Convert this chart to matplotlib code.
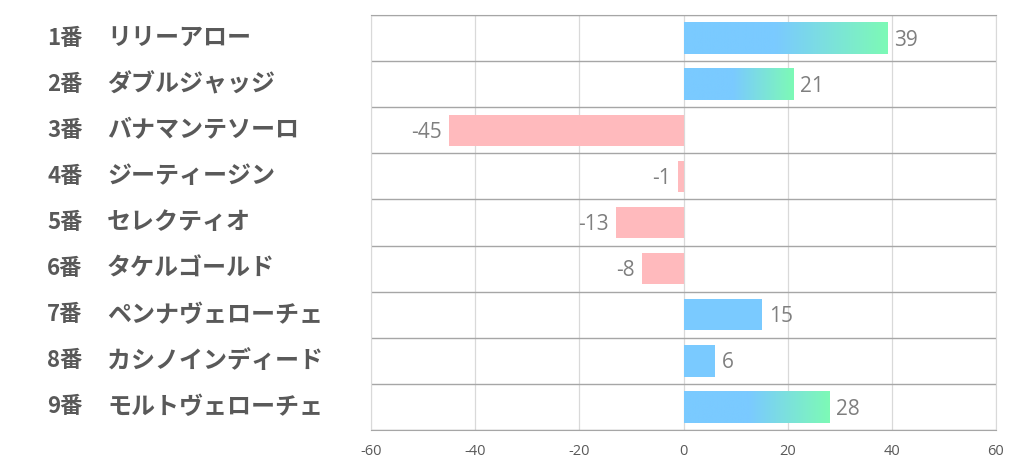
"""
    Horizontal bar chart of horse rating differences
"""
import matplotlib.pyplot as plt
import numpy as np
from matplotlib.colors import LinearSegmentedColormap
from matplotlib.transforms import blended_transform_factory

numbers = ["1番", "2番", "3番", "4番", "5番", "6番", "7番", "8番", "9番"]
names = [
    "リリーアロー",
    "ダブルジャッジ",
    "バナマンテソーロ",
    "ジーティージン",
    "セレクティオ",
    "タケルゴールド",
    "ペンナヴェローチェ",
    "カシノインディード",
    "モルトヴェローチェ",
]
values = [39, 21, -45, -1, -13, -8, 15, 6, 28]
x_ticks = [-60, -40, -20, 0, 20, 40, 60]

BLUE = "#7ACAFF"
GREEN = "#7DFAB6"
PINK = "#FFBABD"

plt.rcParams['font.family'] = ['Noto Sans CJK JP', 'DejaVu Sans']

fig = plt.figure(figsize=(10.22, 4.70), dpi=100)
ax = fig.add_axes([371 / 1022, 40 / 470, 625 / 1022, 415 / 470])

n = len(values)
ypos = np.arange(n)
bar_h = 0.68
colors = [BLUE if v >= 0 else PINK for v in values]
ax.barh(ypos, values, height=bar_h, color=colors, zorder=2)

# gradient overlay for the longer positive bars
cmap = LinearSegmentedColormap.from_list("bg", [(0, BLUE), (0.45, BLUE), (1, GREEN)])
grad = np.linspace(0, 1, 256).reshape(1, -1)
for y, v in zip(ypos, values):
    if v >= 20:
        ax.imshow(grad, cmap=cmap, aspect='auto', zorder=3,
                  extent=[0, v, y + bar_h / 2, y - bar_h / 2])

ax.set_xlim(-60, 60)
ax.set_ylim(n - 0.5, -0.5)
ax.set_xticks(x_ticks)
ax.set_xticklabels([str(t) for t in x_ticks], fontsize=10.5, color="#595959",
                   family=['Open Sans', 'DejaVu Sans'])
ax.set_yticks([])
ax.tick_params(axis='x', length=0, pad=10)

# grid lines
for t in x_ticks:
    ax.axvline(t, color="#D9D9D9", lw=0.9, zorder=1)
for b in np.arange(-0.5, n, 1.0):
    ax.axhline(b, color="#A6A6A6", lw=1.0, zorder=1)
for side in ["left", "right"]:
    ax.spines[side].set_color("#D9D9D9")
for side in ["top", "bottom"]:
    ax.spines[side].set_color("#A6A6A6")

# value labels
for y, v in zip(ypos, values):
    if v >= 0:
        ax.annotate(str(v), (v, y), xytext=(5, -1.5), textcoords='offset points',
                    ha='left', va='center', fontsize=15, color="#7F7F7F",
                    family=['Open Sans', 'DejaVu Sans'])
    else:
        ax.annotate(str(v), (v, y), xytext=(-5, -1.5), textcoords='offset points',
                    ha='right', va='center', fontsize=15, color="#7F7F7F",
                    family=['Open Sans', 'DejaVu Sans'])

# category labels on the left
trans = blended_transform_factory(fig.transFigure, ax.transData)
for y, num, name in zip(ypos, numbers, names):
    ax.text(47 / 1022, y, num, transform=trans, ha='left', va='center',
            fontsize=16, fontweight='bold', color="#595959")
    ax.text(107 / 1022, y, name, transform=trans, ha='left', va='center',
            fontsize=17.3, fontweight='bold', color="#595959")

plt.savefig('out.png', dpi=100)
